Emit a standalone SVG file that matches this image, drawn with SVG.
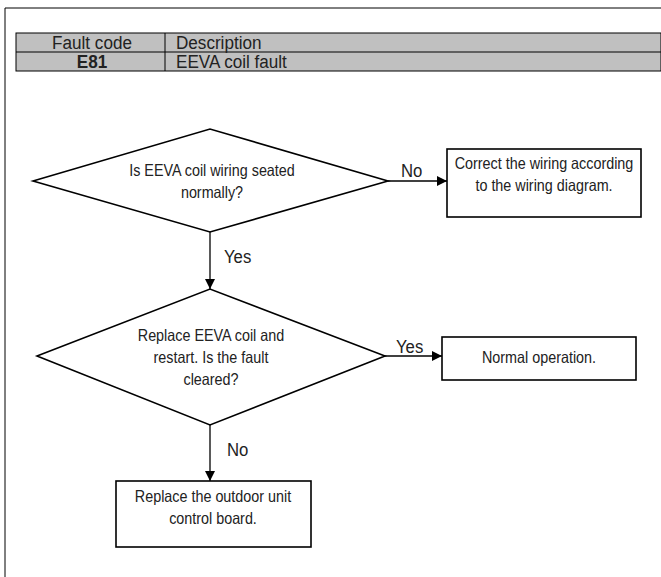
<svg xmlns="http://www.w3.org/2000/svg" width="661" height="577" viewBox="0 0 661 577">
<defs>
<style>
.t{font-family:"Liberation Sans",Arial,sans-serif;font-size:16.5px;fill:#222}
.h{font-size:19px}
.s{fill:none;stroke:#000;stroke-width:1}
.n{fill:#fff;stroke:#000;stroke-width:1.6}
.c{fill:none;stroke:#000;stroke-width:1.3}
</style>
<marker id="ah" viewBox="0 0 10 10" refX="10" refY="5" markerWidth="10" markerHeight="10" markerUnits="userSpaceOnUse" orient="auto"><path d="M0,0 L10,5 L0,10 z" fill="#000"/></marker>
</defs>
<rect width="661" height="577" fill="#fff"/>
<path class="s" d="M5,577 V8 H661"/>
<g id="table">
<rect x="16" y="33" width="645" height="38" fill="#c0c0c0" stroke="#000" stroke-width="1"/>
<line x1="16" y1="52" x2="661" y2="52" stroke="#000" stroke-width="1"/>
<line x1="165" y1="33" x2="165" y2="71" stroke="#000" stroke-width="1"/>
<text class="t h" transform="translate(92,49) scale(0.9,1)" text-anchor="middle">Fault code</text>
<text class="t h" transform="translate(176,49) scale(0.9,1)">Description</text>
<text class="t h" transform="translate(92,68) scale(0.9,1)" text-anchor="middle" font-weight="bold">E81</text>
<text class="t h" transform="translate(176,68) scale(0.9,1)">EEVA coil fault</text>
</g>
<g id="connectors">
<line class="c" x1="388" y1="181" x2="447" y2="181" marker-end="url(#ah)"/>
<text class="t h" transform="translate(401,177) scale(0.88,1)">No</text>
<line class="c" x1="210" y1="232" x2="210" y2="289" marker-end="url(#ah)"/>
<text class="t h" transform="translate(224,263) scale(0.88,1)">Yes</text>
<line class="c" x1="385" y1="356" x2="442" y2="356" marker-end="url(#ah)"/>
<text class="t h" transform="translate(396,353) scale(0.88,1)">Yes</text>
<line class="c" x1="210" y1="425" x2="210" y2="481" marker-end="url(#ah)"/>
<text class="t h" transform="translate(227,456) scale(0.88,1)">No</text>
</g>
<g id="d1">
<polygon class="n" points="33,181 210,129 388,181 210,232"/>
<text class="t" transform="translate(212,176) scale(0.87,1)" text-anchor="middle">Is EEVA coil wiring seated</text>
<text class="t" transform="translate(212,198) scale(0.87,1)" text-anchor="middle">normally?</text>
</g>
<g id="b1">
<rect class="n" x="447" y="149" width="194" height="68"/>
<text class="t" transform="translate(544,169) scale(0.87,1)" text-anchor="middle">Correct the wiring according</text>
<text class="t" transform="translate(544,191) scale(0.87,1)" text-anchor="middle">to the wiring diagram.</text>
</g>
<g id="d2">
<polygon class="n" points="37,356 210,289 385,356 210,425"/>
<text class="t" transform="translate(211,341) scale(0.87,1)" text-anchor="middle">Replace EEVA coil and</text>
<text class="t" transform="translate(211,363) scale(0.87,1)" text-anchor="middle">restart. Is the fault</text>
<text class="t" transform="translate(211,385) scale(0.87,1)" text-anchor="middle">cleared?</text>
</g>
<g id="b2">
<rect class="n" x="442" y="337" width="194" height="43"/>
<text class="t" transform="translate(539,363) scale(0.87,1)" text-anchor="middle">Normal operation.</text>
</g>
<g id="b3">
<rect class="n" x="116" y="481" width="195" height="66"/>
<text class="t" transform="translate(213,502) scale(0.87,1)" text-anchor="middle">Replace the outdoor unit</text>
<text class="t" transform="translate(213,524) scale(0.87,1)" text-anchor="middle">control board.</text>
</g>
</svg>
